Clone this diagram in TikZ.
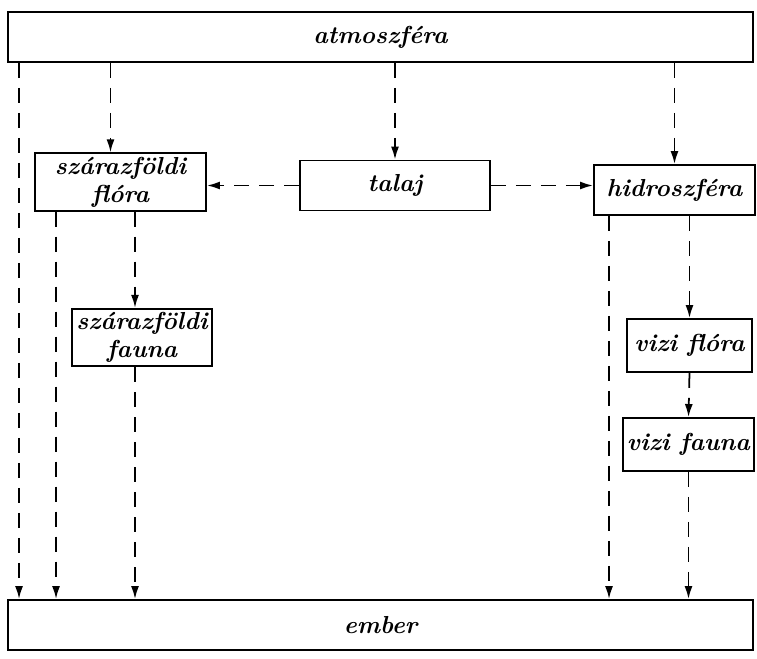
\documentclass[tikz,border=0pt]{standalone}
\usepackage{fontspec}
\usetikzlibrary{arrows.meta}

\begin{document}
\begin{tikzpicture}[
      box/.style={draw, line width=1.1pt, align=center, inner sep=2pt, minimum width=#1, minimum height=1cm, font=\fontsize{14}{16}\selectfont\bfseries\itshape},
      box/.default=3cm,
      flow/.style={line width=1pt, dash pattern=on 3mm off 2mm, -{Latex[length=2.6mm,width=1.6mm]}}
    ]
      \useasboundingbox (0,0) rectangle (15.14,13.18);
      \node[box=14.9cm] (atm) at (7.61,12.44) {atmoszféra};
      \node[box=14.9cm] (ember) at (7.61,0.68) {ember};
      \node[box=3.42cm] (szfl) at (2.41,9.54) {szárazföldi \\ flóra};
      \node[box=3.8cm] (talaj) at (7.9,9.47) {talaj};
      \node[box=3.22cm] (hidro) at (13.49,9.38) {hidroszféra};
      \node[box=2.8cm, minimum height=1.1cm] (szfa) at (2.84,6.43) {szárazföldi \\ fauna};
      \node[box=2.5cm, minimum height=1.06cm] (vfl) at (13.79,6.27) {vizi flóra};
      \node[box=2.46cm, minimum height=1.06cm] (vfa) at (13.77,4.29) {vizi fauna};

      \coordinate (c1) at ([xshift=0.24cm]atm.south west);
      \coordinate (c2) at ([xshift=-0.2cm]szfl.north);
      \coordinate (c3) at ([xshift=0.44cm]szfl.south west);
      \coordinate (c4) at ([xshift=-0.14cm]szfa.north);
      \coordinate (c5) at ([xshift=0.32cm]hidro.south west);

      \draw[flow] (c1) -- (c1 |- ember.north);
      \draw[flow] (c2 |- atm.south) -- (c2);
      \draw[flow] (talaj.north |- atm.south) -- (talaj.north);
      \draw[flow] (hidro.north |- atm.south) -- (hidro.north);
      \draw[flow] (talaj.west) -- (szfl.east |- talaj.west);
      \draw[flow] (talaj.east) -- (hidro.west |- talaj.east);
      \draw[flow] (c3) -- (c3 |- ember.north);
      \draw[flow] (c4 |- szfl.south) -- (c4);
      \draw[flow] (c4 |- szfa.south) -- (c4 |- ember.north);
      \draw[flow] (c5) -- (c5 |- ember.north);
      \draw[flow] (vfl.north |- hidro.south) -- (vfl.north);
      \draw[flow] (vfl.south) -- (vfa.north);
      \draw[flow] (vfa.south) -- (vfa.south |- ember.north);
    \end{tikzpicture}
\end{document}
